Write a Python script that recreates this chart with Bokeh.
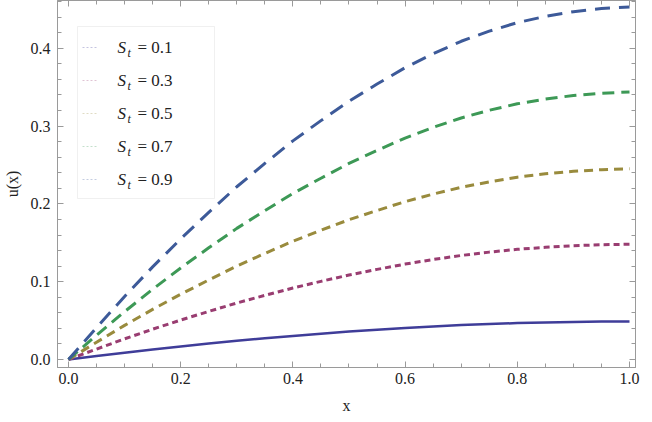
from bokeh.plotting import figure
from bokeh.models import (Range1d, LinearAxis, FixedTicker, PrintfTickFormatter,
                          CustomJSTickFormatter, Label, BoxAnnotation, PolyAnnotation)
from bokeh.embed import file_html
from bokeh.resources import INLINE

# ---- data ----
x = [0.0, 0.05, 0.10, 0.15, 0.20, 0.25, 0.30, 0.35, 0.40, 0.45, 0.50,
     0.55, 0.60, 0.65, 0.70, 0.75, 0.80, 0.85, 0.90, 0.95, 1.0]
u_st01 = [0, .0044, .0087, .0129, .0167, .0204, .0240, .0272, .0303, .0332, .0359,
          .0382, .0405, .0424, .0442, .0456, .0468, .0476, .0483, .0487, .0489]
u_st03 = [0, .0134, .0265, .0389, .0507, .0618, .0726, .0824, .0919, .1004, .1086,
          .1158, .1226, .1285, .1337, .1380, .1416, .1442, .1462, .1475, .1481]
u_st05 = [0, .0222, .0438, .0644, .0839, .1022, .1201, .1363, .1520, .1661, .1796,
          .1915, .2029, .2126, .2213, .2283, .2343, .2386, .2418, .2440, .2451]
u_st07 = [0, .0311, .0615, .0903, .1176, .1435, .1685, .1913, .2133, .2330, .2520,
          .2687, .2846, .2983, .3104, .3203, .3286, .3347, .3393, .3423, .3438]
u_st09 = [0, .041, .081, .119, .155, .189, .222, .252, .281, .307, .332,
          .354, .375, .393, .409, .422, .433, .441, .447, .451, .453]
st_labels = ["0.1", "0.3", "0.5", "0.7", "0.9"]
x_ticks = [0.0, 0.2, 0.4, 0.6, 0.8, 1.0]
y_ticks = [0.0, 0.1, 0.2, 0.3, 0.4]

series = [u_st01, u_st03, u_st05, u_st07, u_st09]
colors = ["#3F3D99", "#993D71", "#998B3D", "#3D9956", "#3D5A99"]
dashes = ["solid", "6 4", "9 6", "12 7", "15 9"]
widths = [2.5, 3, 3, 3, 3]

FONT = "'Liberation Serif', 'Times New Roman', Times, 'DejaVu Serif', serif"
GRAY = "#9a9a9a"
TXT = "#222222"

p = figure(frame_width=578, frame_height=367, output_backend="svg",
           toolbar_location=None,
           x_range=Range1d(-0.0196, 1.0107), y_range=Range1d(-0.0103, 0.4614),
           min_border_left=51, min_border_right=7, min_border_top=0,
           min_border_bottom=47)
p.xgrid.visible = False
p.ygrid.visible = False
p.outline_line_color = GRAY
p.background_fill_color = "white"
p.border_fill_color = "white"

for ys, c, d, w in zip(series, colors, dashes, widths):
    p.line(x, ys, line_color=c, line_width=w, line_dash=d, line_cap="butt")

def style_axis(ax, ticks, minor, show_labels):
    ax.ticker = FixedTicker(ticks=ticks, minor_ticks=minor)
    ax.axis_line_color = GRAY
    ax.major_tick_line_color = GRAY
    ax.minor_tick_line_color = GRAY
    ax.major_tick_in = 6
    ax.major_tick_out = 0
    ax.minor_tick_in = 4
    ax.minor_tick_out = 0
    if show_labels:
        ax.formatter = PrintfTickFormatter(format="%.1f")
        ax.major_label_text_font = FONT
        ax.major_label_text_font_size = "16px"
        ax.major_label_text_color = TXT
        ax.major_label_standoff = 7
        ax.axis_label_text_font = FONT
        ax.axis_label_text_font_size = "16px"
        ax.axis_label_text_font_style = "normal"
        ax.axis_label_text_color = TXT
    else:
        ax.formatter = CustomJSTickFormatter(code="return ''")
        ax.major_label_standoff = 0

x_minor = [i * 0.05 for i in range(21)]
y_minor = [i * 0.02 for i in range(24)]

style_axis(p.xaxis[0], x_ticks, x_minor, True)
p.xaxis[0].major_label_standoff = 5
p.xaxis[0].axis_label = "x"
p.xaxis[0].axis_label_standoff = 10
style_axis(p.yaxis[0], y_ticks, y_minor, True)
p.yaxis[0].axis_label = "u(x)"
p.yaxis[0].axis_label_standoff = 7

top = LinearAxis()
style_axis(top, x_ticks, x_minor, False)
p.add_layout(top, "above")
right = LinearAxis()
style_axis(right, y_ticks, y_minor, False)
p.add_layout(right, "right")

# ---- legend (frame-relative screen coordinates) ----
p.add_layout(BoxAnnotation(left=20, right=157, bottom=169, top=341,
                           left_units="screen", right_units="screen",
                           bottom_units="screen", top_units="screen",
                           fill_color="white", fill_alpha=1.0,
                           line_color="#cccccc", line_width=1))
for i, lab in enumerate(st_labels):
    yc = 320 - 33 * i
    p.add_layout(PolyAnnotation(xs=[25, 40], ys=[yc, yc], xs_units="screen",
                                ys_units="screen", line_color=colors[i],
                                line_alpha=0.3, line_width=1, line_dash="2 2",
                                fill_alpha=0))
    p.add_layout(Label(x=60, y=yc, x_units="screen", y_units="screen", text="S",
                       text_font=FONT, text_font_style="italic",
                       text_font_size="17px", text_baseline="middle",
                       text_color=TXT))
    p.add_layout(Label(x=70, y=yc - 5, x_units="screen", y_units="screen", text="t",
                       text_font=FONT, text_font_style="italic",
                       text_font_size="12px", text_baseline="middle",
                       text_color=TXT))
    p.add_layout(Label(x=80, y=yc, x_units="screen", y_units="screen",
                       text="= " + lab, text_font=FONT,
                       text_font_size="17px", text_baseline="middle",
                       text_color=TXT))

open("out.html", "w").write(file_html(p, INLINE))
